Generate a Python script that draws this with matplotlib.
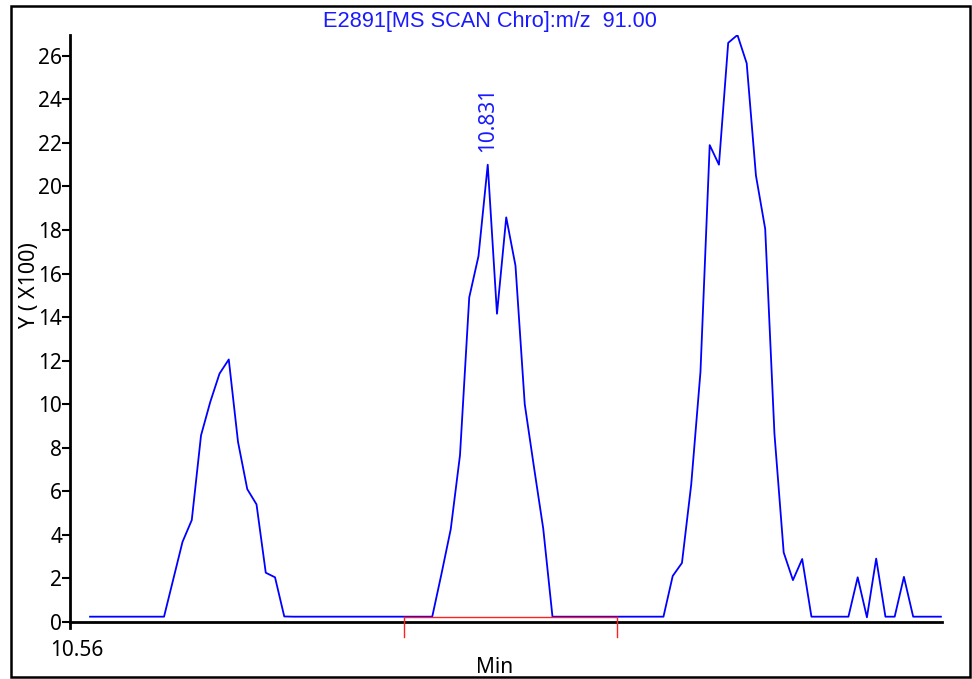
import numpy as np
import matplotlib
matplotlib.use('Agg')
import matplotlib.pyplot as plt
from matplotlib.patches import Rectangle

# ---- data ----
start_time = 10.573      # min, first scan
scan_interval = 0.006    # min between scans
intensity = [
    0.23, 0.23, 0.23, 0.23, 0.23, 0.23, 0.23, 0.23, 0.23,
    1.95, 3.67, 4.67, 8.56, 10.1, 11.4, 12.05, 8.26, 6.09, 5.39, 2.25, 2.04, 0.24,
    0.23, 0.23, 0.23, 0.23, 0.23, 0.23, 0.23, 0.23, 0.23, 0.23, 0.23, 0.23, 0.23, 0.23, 0.23, 0.23,
    2.2, 4.25, 7.65, 14.9, 16.8, 21.0, 14.15, 18.58, 16.36, 10.0, 7.1, 4.28,
    0.23, 0.23, 0.23, 0.23, 0.23, 0.23, 0.23, 0.23, 0.23, 0.23, 0.23, 0.23, 0.23,
    2.1, 2.7, 6.3, 11.47, 21.9, 21.0, 26.6, 26.96, 25.66, 20.5, 18.05, 8.64, 3.18, 1.91, 2.88,
    0.23, 0.23, 0.23, 0.23, 0.23,
    2.04, 0.2, 2.9, 0.23, 0.23, 2.06, 0.23,
    0.23, 0.23, 0.23,
]
times = start_time + scan_interval * np.arange(len(intensity))

peak_time = 10.831
peak_height = 21.0
peak_label = "10.831"
integ_start, integ_end, integ_base = 10.777, 10.915, 0.23
y_ticks = list(range(0, 27, 2))
x_start_label = "10.56"
title = "E2891[MS SCAN Chro]:m/z  91.00"
ylabel = "Y ( X100)"
xlabel = "Min"

W, H = 972, 679
fig = plt.figure(figsize=(W / 100, H / 100), dpi=100)
ax = fig.add_axes([70 / W, 51 / H, 872 / W, 593 / H])

ax.plot(times, intensity, color='#0000ff', lw=1.3, zorder=3)

# integration marks
ax.plot([integ_start, integ_end], [integ_base, integ_base], color='#ff2020', lw=1.0, zorder=4)
ax.plot([integ_start, integ_start], [integ_base, -0.7], color='#ff2020', lw=1.0, zorder=4, clip_on=False)
ax.plot([integ_end, integ_end], [integ_base, -0.7], color='#ff2020', lw=1.0, zorder=4, clip_on=False)

ax.set_xlim(10.56, 11.1257)
ax.set_ylim(-0.29, 26.96)

for s in ('top', 'right'):
    ax.spines[s].set_visible(False)
ax.spines['bottom'].set_position(('data', 0))
ax.spines['bottom'].set_linewidth(2.0)
ax.spines['left'].set_linewidth(2.0)

ax.set_xticks([])
ax.set_yticks(y_ticks)
ax.set_yticklabels([str(v) for v in y_ticks], family='Noto Sans', fontsize=15)
ax.tick_params(axis='y', direction='out', length=5.5, width=1.5, pad=0)

blue = '#1a1aff'
ax.annotate(peak_label, xy=(peak_time, peak_height), xytext=(0, 9.5),
            textcoords='offset points', rotation=90, ha='center', va='bottom',
            color=blue, fontsize=15, family='Noto Sans')

fig.text(490 / W, 1 - 21.5 / H, title, ha='center', va='center', color=blue,
         fontsize=15.7, family='Liberation Sans')
fig.text(76.5 / W, 1 - 650 / H, x_start_label, ha='center', va='center',
         fontsize=15, family='Noto Sans')
fig.text(494.5 / W, 1 - 657 / H, xlabel, ha='center', va='top',
         fontsize=15, family='Noto Sans')
fig.text(30 / W, 1 - 285 / H, ylabel, ha='center', va='center', rotation=90,
         fontsize=15.5, family='Noto Sans')

fig.patches.append(Rectangle((10.5 / W, 2.3 / H), 959 / W, 671.2 / H, fill=False,
                             lw=1.8, edgecolor='black', transform=fig.transFigure,
                             figure=fig, zorder=10))

fig.savefig('out.png', dpi=100)
